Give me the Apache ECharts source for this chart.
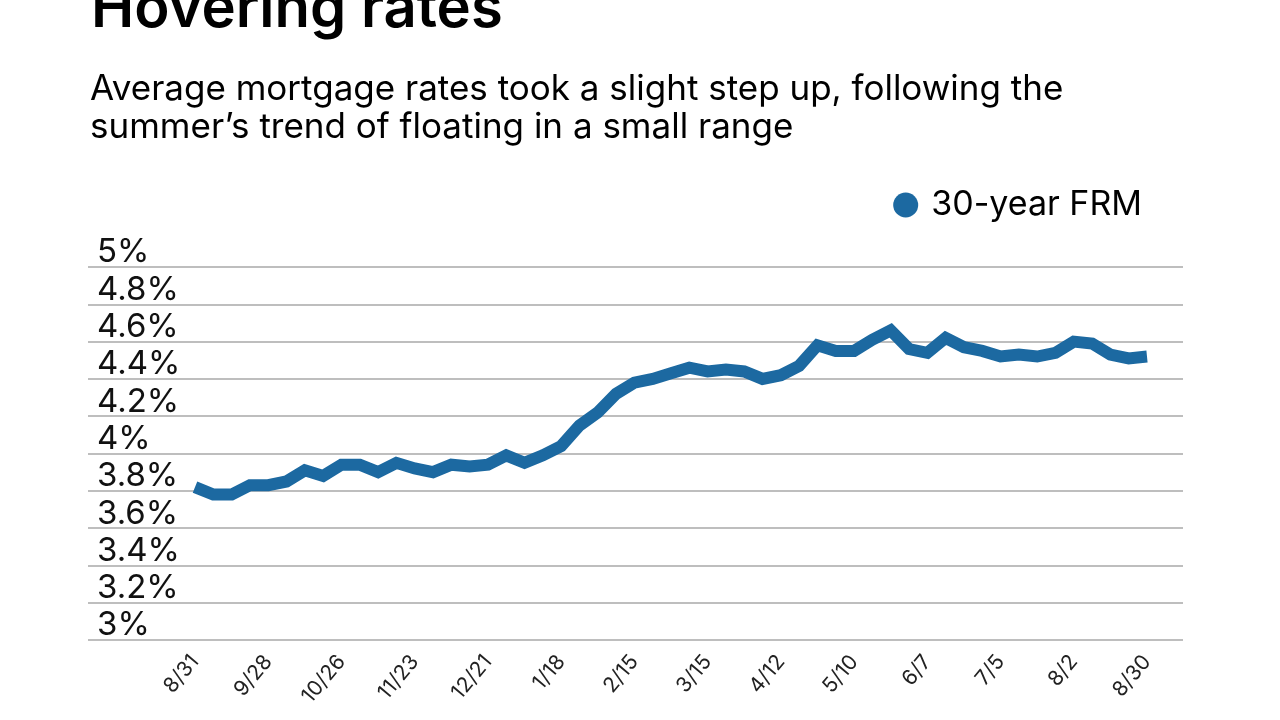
<!DOCTYPE html>
<html><head><meta charset="utf-8">
<script src="https://cdn.jsdelivr.net/npm/echarts@6/dist/echarts.min.js"></script>
<style>html,body{margin:0;padding:0;background:#fff}#c{width:1280px;height:720px}</style>
</head><body><div id="c"></div>
<script>
const weeks = ['8/31','9/7','9/14','9/21','9/28','10/5','10/12','10/19','10/26','11/2','11/9','11/16','11/23','11/30','12/7','12/14','12/21','12/28','1/4','1/11','1/18','1/25','2/1','2/8','2/15','2/22','3/1','3/8','3/15','3/22','3/29','4/5','4/12','4/19','4/26','5/3','5/10','5/17','5/24','5/31','6/7','6/14','6/21','6/28','7/5','7/12','7/19','7/26','8/2','8/9','8/16','8/23','8/30'];
const frm30 = [3.82,3.78,3.78,3.83,3.83,3.85,3.91,3.88,3.94,3.94,3.90,3.95,3.92,3.90,3.94,3.93,3.94,3.99,3.95,3.99,4.04,4.15,4.22,4.32,4.38,4.40,4.43,4.46,4.44,4.45,4.44,4.40,4.42,4.47,4.58,4.55,4.55,4.61,4.66,4.56,4.54,4.62,4.57,4.55,4.52,4.53,4.52,4.54,4.60,4.59,4.53,4.51,4.52];
const seriesName = '30-year FRM';
const titleText = 'Hovering rates';
const subtitleLines = ['Average mortgage rates took a slight step up, following the', 'summer\u2019s trend of floating in a small range'];

const font = 'Inter, "Noto Sans", sans-serif';
const blue = '#1c69a1';
const chart = echarts.init(document.getElementById('c'));
chart.setOption({
  animation: false,
  graphic: [
    {type:'text', left: 91, top: -19, style:{text:titleText, font:'600 58px ' + font, fill:'#000'}},
    {type:'text', left: 90, top: 70, style:{text:subtitleLines.join('\n'), font:'35px ' + font, lineHeight: 38, fill:'#000'}}
  ],
  legend: {
    right: 133, top: 183, itemWidth: 25, itemHeight: 25, itemGap: 10,
    icon: 'circle',
    textStyle: {fontSize: 34, fontFamily: font, color:'#000', padding:[0,0,0,8]},
    data: [{name: seriesName, itemStyle:{color: blue}}]
  },
  grid: [
    {left: 88, right: 97, top: 267, bottom: 80},
    {left: 195, right: 133, top: 267, bottom: 80}
  ],
  xAxis: [
    {gridIndex: 0, type:'category', data:[''], show:false},
    {gridIndex: 1, type:'category', data: weeks, boundaryGap:false,
     axisLine:{show:false}, axisTick:{show:false},
     axisLabel:{interval:3, rotate:50, fontSize:21, fontFamily:font, color:'#222', margin:18}}
  ],
  yAxis: [
    {gridIndex: 0, type:'value', min:3, max:5, interval:0.2,
     axisLine:{show:false}, axisTick:{show:false},
     splitLine:{lineStyle:{color:'#a8a8a8', width:1.5}},
     axisLabel:{inside:true, margin:9, verticalAlign:'bottom', fontSize:33, fontFamily:font, color:'#111',
       padding:[0,0,-2,0],
       formatter: v => (Math.round(v*10)/10) + '%'}},
    {gridIndex: 1, type:'value', min:3, max:5, show:false, splitLine:{show:false}}
  ],
  series: [{
    name: seriesName, type:'line', xAxisIndex:1, yAxisIndex:1, data: frm30,
    symbol:'none', lineStyle:{color: blue, width: 12, join:'miter'}, itemStyle:{color: blue}
  }]
});
</script></body></html>
